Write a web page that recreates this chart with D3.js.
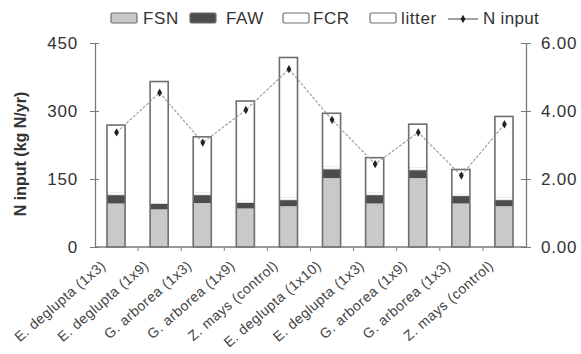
<!DOCTYPE html>
<html>
<head>
<meta charset="utf-8">
<script src="https://cdn.jsdelivr.net/npm/d3@7"></script>
<style>
  html, body { margin: 0; padding: 0; background: #fff; }
  svg { display: block; font-family: "Liberation Sans", Arial, sans-serif; }
</style>
</head>
<body>
<svg id="chart" width="581" height="354"></svg>
<script>
// Treatments along the x axis
const categories = [
  "E. deglupta (1x3)", "E. deglupta (1x9)", "G. arborea (1x3)", "G. arborea (1x9)",
  "Z. mays (control)", "E. deglupta (1x10)", "E. deglupta (1x3)", "G. arborea (1x9)",
  "G. arborea (1x3)", "Z. mays (control)"
];
// Stacked N input components (kg N/yr)
const fsn    = [96, 83, 97, 85, 90, 152, 96, 152, 96, 90];
const faw    = [19, 13, 18, 13, 14, 20, 19, 18, 17, 14];
const fcr    = [6, 6, 6, 6, 6, 6, 6, 6, 6, 6];
const litter = [148, 263, 122, 218, 308, 117, 76, 95, 52, 178];
// Line series on the right axis
const nInput = [3.37, 4.54, 3.07, 4.03, 5.23, 3.74, 2.44, 3.37, 2.10, 3.61];
// Axis ticks
const leftTicks  = [0, 150, 300, 450];
const rightTicks = [0, 2, 4, 6];
const seriesNames = ["FSN", "FAW", "FCR", "litter"];

const svg = d3.select("#chart");
const plotL = 95, plotR = 526, plotT = 43, plotB = 247;

const x = d3.scaleBand().domain(d3.range(categories.length)).range([plotL, plotR]).padding(0);
const y = d3.scaleLinear().domain([0, 450]).range([plotB, plotT]);
const y2 = d3.scaleLinear().domain([0, 6]).range([plotB, plotT]);

const fills = { FSN: "#c9c9c9", FAW: "#4d4d4d", FCR: "#ffffff", litter: "#ffffff" };
const axisColor = "#7a7a7a";
const textColor = "#333";

// Stack the components
const rows = categories.map((c, i) => ({ i, FSN: fsn[i], FAW: faw[i], FCR: fcr[i], litter: litter[i] }));
const stacked = d3.stack().keys(seriesNames)(rows);

const barW = x.bandwidth() * 0.42;
const barX = i => x(i) + x.bandwidth() / 2 - barW / 2 - 0.5;

stacked.forEach(layer => {
  svg.append("g").selectAll("rect").data(layer).join("rect")
    .attr("x", d => barX(d.data.i))
    .attr("width", barW)
    .attr("y", d => y(d[1]))
    .attr("height", d => y(d[0]) - y(d[1]))
    .attr("fill", fills[layer.key])
    .attr("stroke", layer.key === "FCR" ? "#d8d8d8" : "none")
    .attr("stroke-width", 0.8);
});
// Outline around each whole bar
svg.append("g").selectAll("rect").data(rows).join("rect")
  .attr("x", d => barX(d.i))
  .attr("width", barW)
  .attr("y", d => y(d.FSN + d.FAW + d.FCR + d.litter))
  .attr("height", d => plotB - y(d.FSN + d.FAW + d.FCR + d.litter))
  .attr("fill", "none")
  .attr("stroke", "#6e6e6e")
  .attr("stroke-width", 1.6);

// N input line with markers
const cx = i => x(i) + x.bandwidth() / 2;
svg.append("path")
  .datum(nInput)
  .attr("d", d3.line().x((d, i) => cx(i)).y(d => y2(d)))
  .attr("fill", "none")
  .attr("stroke", "#9a9a9a")
  .attr("stroke-width", 1.1)
  .attr("stroke-dasharray", "3,1.5");
svg.append("g").selectAll("path").data(nInput).join("path")
  .attr("transform", (d, i) => `translate(${cx(i)},${y2(d)})`)
  .attr("d", d3.symbol(d3.symbolDiamond, 20))
  .attr("fill", "#222");

// Left axis
const yAxis = svg.append("g").attr("transform", `translate(${plotL},0)`)
  .call(d3.axisLeft(y).tickValues(leftTicks).tickSize(5).tickPadding(12).tickSizeOuter(0));
yAxis.selectAll(".tick line").attr("x2", -5).attr("x1", 4);
// Right axis
const y2Axis = svg.append("g").attr("transform", `translate(${plotR},0)`)
  .call(d3.axisRight(y2).tickValues(rightTicks).tickFormat(d3.format(".2f")).tickSize(5).tickPadding(10).tickSizeOuter(0));
y2Axis.selectAll(".tick line").attr("x1", -5).attr("x2", 5);
// Bottom axis line with ticks at category boundaries
svg.append("line").attr("x1", plotL).attr("x2", plotR).attr("y1", plotB).attr("y2", plotB)
  .attr("stroke", axisColor).attr("stroke-width", 1.3);
svg.append("g").selectAll("line").data(d3.range(1, categories.length)).join("line")
  .attr("x1", i => x(i)).attr("x2", i => x(i))
  .attr("y1", plotB).attr("y2", plotB + 4)
  .attr("stroke", axisColor);

[yAxis, y2Axis].forEach(g => {
  g.select(".domain").attr("stroke", axisColor).attr("stroke-width", 1.3);
  g.selectAll(".tick line").attr("stroke", axisColor);
  g.selectAll("text").attr("fill", textColor).style("font-size", "17px").style("letter-spacing", "0.8px");
});

// Category labels
svg.append("g").selectAll("text").data(categories).join("text")
  .attr("transform", (d, i) => `translate(${cx(i) - 10},${plotB + 20}) rotate(-41)`)
  .attr("text-anchor", "end")
  .attr("fill", "#444")
  .style("font-size", "14px")
  .style("letter-spacing", "0.5px")
  .text(d => d);

// Axis title
svg.append("text")
  .attr("transform", "translate(26,154) rotate(-90)")
  .attr("text-anchor", "middle")
  .attr("fill", textColor)
  .style("font-size", "16px")
  .style("font-weight", "bold")
  .text("N input (kg N/yr)");

// Legend
const legendY = 18;
const legend = [
  { key: "FSN", bx: 111, tx: 143 },
  { key: "FAW", bx: 190, tx: 226 },
  { key: "FCR", bx: 283, tx: 313 },
  { key: "litter", bx: 370, tx: 401 }
];
legend.forEach(l => {
  svg.append("rect").attr("x", l.bx).attr("y", legendY - 5).attr("width", 26).attr("height", 10)
    .attr("rx", 1.5)
    .attr("fill", fills[l.key]).attr("stroke", "#6e6e6e").attr("stroke-width", 1.2);
  svg.append("text").attr("x", l.tx).attr("y", legendY + 6).attr("fill", textColor)
    .style("font-size", "17px").style("letter-spacing", "0.6px").text(l.key);
});
svg.append("line").attr("x1", 448).attr("x2", 478).attr("y1", legendY + 1).attr("y2", legendY + 1)
  .attr("stroke", "#555").attr("stroke-width", 1.1);
svg.append("path").attr("transform", `translate(463,${legendY + 1})`)
  .attr("d", d3.symbol(d3.symbolDiamond, 20)).attr("fill", "#222");
svg.append("text").attr("x", 483).attr("y", legendY + 6).attr("fill", textColor)
  .style("font-size", "17px").style("letter-spacing", "0.3px").text("N input");
</script>
</body>
</html>
